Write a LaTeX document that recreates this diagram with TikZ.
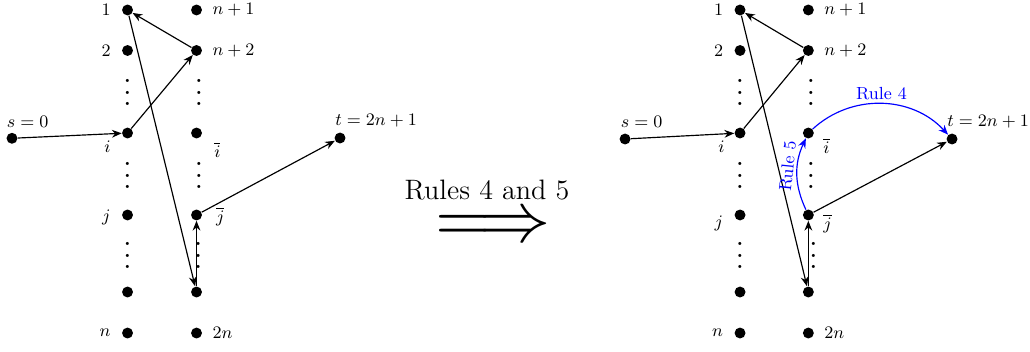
\documentclass[tikz,border=0pt]{standalone}
\usepackage{amsmath,amssymb}
\usetikzlibrary{arrows.meta,positioning}

% vertical dots without the top kern of \vdots
\newcommand{\colvdots}{\scalebox{1.5}{\vbox{\baselineskip4pt\lineskiplimit0pt\hbox{.}\hbox{.}\hbox{.}}}}

\begin{document}
\begin{tikzpicture}[
  >={Stealth[length=5pt,width=4pt]},
  dotnode/.style={circle,fill,inner sep=0pt,minimum size=5.6pt},
  link/.style={->,semithick},
  rulelink/.style={->,semithick,blue},
  labelstyle/.style={
    font=\small,
    inner sep=1.5pt
  },
  rulelabel/.style={font=\small,text=blue,inner sep=1.5pt},
  dotsstyle/.style={inner sep=0pt}
]

\useasboundingbox (0,0) rectangle (18.56,6.325);

% Left graph: vertices
\node[dotnode] (Ls) at (0.216,3.833) {};
\node[dotnode] (Lone) at (2.298,6.145) {};
\node[dotnode] (Ltwo) at (2.298,5.415) {};
\node[dotnode] (Li) at (2.298,3.928) {};
\node[dotnode] (Lj) at (2.298,2.451) {};
\node[dotnode] (Llow) at (2.298,1.063) {};
\node[dotnode] (Ln) at (2.298,0.324) {};
\node[dotnode] (LnOne) at (3.541,6.145) {};
\node[dotnode] (LnTwo) at (3.541,5.415) {};
\node[dotnode] (Libar) at (3.541,3.928) {};
\node[dotnode] (Ljbar) at (3.541,2.451) {};
\node[dotnode] (Llowbar) at (3.541,1.063) {};
\node[dotnode] (LtwoN) at (3.541,0.324) {};
\node[dotnode] (Lt) at (6.127,3.838) {};

% Left graph: dots
\node[dotsstyle] at (2.298,4.658) {\colvdots};
\node[dotsstyle] at (2.298,3.163) {\colvdots};
\node[dotsstyle] at (2.298,1.721) {\colvdots};
\node[dotsstyle] at (3.586,4.658) {\colvdots};
\node[dotsstyle] at (3.586,3.163) {\colvdots};
\node[dotsstyle] at (3.570,1.721) {\colvdots};

% Left graph: labels
\node[labelstyle,left=4pt of Lone] {$1$};
\node[labelstyle,left=4pt of Ltwo] {$2$};
\node[labelstyle,left=4pt of Li,yshift=-7.2pt] {$i$};
\node[labelstyle,left=4pt of Lj,yshift=-1pt] {$j$};
\node[labelstyle,left=4pt of Ln] {$n$};
\node[labelstyle,right=3.5pt of LnOne] {$n+1$};
\node[labelstyle,right=3.5pt of LnTwo] {$n+2$};
\node[labelstyle,right=4.4pt of Libar,yshift=-8.7pt] {$\overline{i}$};
\node[labelstyle,right=5.3pt of Ljbar,yshift=-1pt] {$\overline{j}$};
\node[labelstyle,right=3.5pt of LtwoN] {$2n$};
\node[labelstyle,above=1pt of Ls,xshift=8pt] {$s=0$};
\node[labelstyle,above=1pt of Lt,xshift=18.5pt] {$t=2n+1$};

% Left graph: path
\draw[link] (Ls) -- (Li);
\draw[link] (Li) -- (LnTwo);
\draw[link] (LnTwo) -- (Lone);
\draw[link] (Lone) -- (Llowbar);
\draw[link] (Llowbar) -- (Ljbar);
\draw[link] (Ljbar) -- (Lt);

% Middle
\node[font=\Large] (rulestext) at (8.776,2.901) {Rules 4 and 5};
\node (implies) at (8.884,2.200) {\scalebox{3.65}{$\Longrightarrow$}};

% Right graph: vertices
\node[dotnode] (Rs) at (11.263,3.820) {};
\node[dotnode] (Rone) at (13.335,6.145) {};
\node[dotnode] (Rtwo) at (13.335,5.415) {};
\node[dotnode] (Ri) at (13.335,3.928) {};
\node[dotnode] (Rj) at (13.335,2.451) {};
\node[dotnode] (Rlow) at (13.335,1.063) {};
\node[dotnode] (Rn) at (13.335,0.324) {};
\node[dotnode] (RnOne) at (14.566,6.145) {};
\node[dotnode] (RnTwo) at (14.566,5.415) {};
\node[dotnode] (Ribar) at (14.566,3.928) {};
\node[dotnode] (Rjbar) at (14.566,2.451) {};
\node[dotnode] (Rlowbar) at (14.566,1.063) {};
\node[dotnode] (RtwoN) at (14.566,0.324) {};
\node[dotnode] (Rt) at (17.155,3.820) {};

% Right graph: dots
\node[dotsstyle] at (13.335,4.658) {\colvdots};
\node[dotsstyle] at (13.335,3.163) {\colvdots};
\node[dotsstyle] at (13.335,1.721) {\colvdots};
\node[dotsstyle] at (14.611,4.658) {\colvdots};
\node[dotsstyle] at (14.611,3.163) {\colvdots};
\node[dotsstyle] at (14.656,1.721) {\colvdots};

% Right graph: labels
\node[labelstyle,left=4pt of Rone] {$1$};
\node[labelstyle,left=4pt of Rtwo] {$2$};
\node[labelstyle,left=3.2pt of Ri,yshift=-7.2pt] {$i$};
\node[labelstyle,left=4pt of Rj,yshift=-4.1pt] {$j$};
\node[labelstyle,left=4pt of Rn] {$n$};
\node[labelstyle,right=3.5pt of RnOne] {$n+1$};
\node[labelstyle,right=3.5pt of RnTwo] {$n+2$};
\node[labelstyle,right=3pt of Ribar,yshift=-6.7pt] {$\overline{i}$};
\node[labelstyle,right=3pt of Rjbar,yshift=-4.6pt] {$\overline{j}$};
\node[labelstyle,right=3.5pt of RtwoN] {$2n$};
\node[labelstyle,above=1pt of Rs,xshift=8.5pt] {$s=0$};
\node[labelstyle,above=1pt of Rt,xshift=18.5pt] {$t=2n+1$};

% Right graph: path
\draw[link] (Rs) -- (Ri);
\draw[link] (Ri) -- (RnTwo);
\draw[link] (RnTwo) -- (Rone);
\draw[link] (Rone) -- (Rlowbar);
\draw[link] (Rlowbar) -- (Rjbar);
\draw[link] (Rjbar) -- (Rt);

% Shortcuts from the rules
\draw[rulelink] (Rjbar) to[bend left=25]
  node[rulelabel,pos=0.6,sloped,above] {Rule 5} (Ribar);
\draw[rulelink] (Ribar) to[bend left=45]
  node[rulelabel,above] {Rule 4} (Rt);
\end{tikzpicture}
\end{document}
